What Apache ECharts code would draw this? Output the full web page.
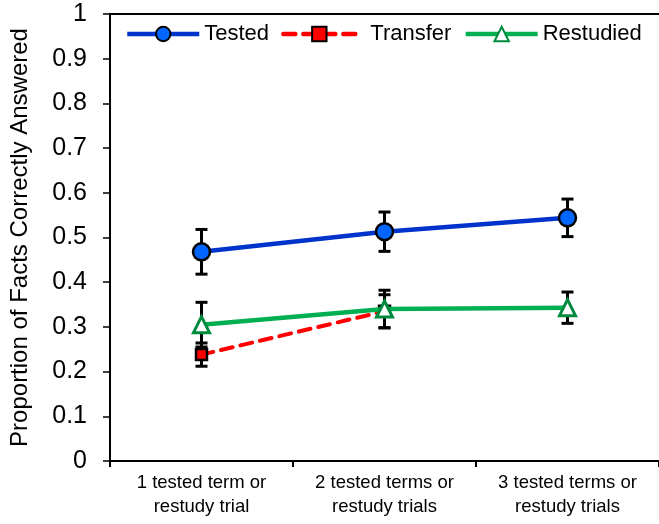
<!DOCTYPE html>
<html>
<head>
<meta charset="utf-8">
<script src="https://cdn.jsdelivr.net/npm/echarts@6/dist/echarts.min.js"></script>
<style>html,body{margin:0;padding:0;background:#fff}#c{width:659px;height:524px}</style>
</head>
<body>
<div id="c"></div>
<script>
var categories = ['1 tested term or\nrestudy trial', '2 tested terms or\nrestudy trials', '3 tested terms or\nrestudy trials'];
var yTicks = ['0', '0.1', '0.2', '0.3', '0.4', '0.5', '0.6', '0.7', '0.8', '0.9', '1'];
var testedMean = [0.468, 0.513, 0.544];
var testedErr = [0.050, 0.044, 0.042];
var transferMean = [0.238, 0.335];
var transferErr = [0.026, 0.037];
var restudiedMean = [0.305, 0.340, 0.343];
var restudiedErr = [0.050, 0.042, 0.035];

var FONT = 'Liberation Sans, Arial, sans-serif';

function errData(mean, err) {
  return mean.map(function (m, i) { return [i, m - err[i], m + err[i]]; });
}
function errSeries(name, mean, err) {
  return {
    type: 'custom',
    name: name + ' err',
    z: 1,
    silent: true,
    data: errData(mean, err),
    renderItem: function (params, api) {
      var x = api.value(0);
      var lo = api.coord([x, api.value(1)]);
      var hi = api.coord([x, api.value(2)]);
      var w = 6;
      var st = { stroke: '#000', lineWidth: 3 };
      return {
        type: 'group',
        children: [
          { type: 'line', shape: { x1: lo[0], y1: lo[1], x2: hi[0], y2: hi[1] }, style: st },
          { type: 'line', shape: { x1: lo[0] - w, y1: lo[1], x2: lo[0] + w, y2: lo[1] }, style: st },
          { type: 'line', shape: { x1: hi[0] - w, y1: hi[1], x2: hi[0] + w, y2: hi[1] }, style: st }
        ]
      };
    }
  };
}

var chart = echarts.init(document.getElementById('c'), null, { renderer: 'canvas' });
chart.setOption({
  animation: false,
  backgroundColor: '#fff',
  textStyle: { fontFamily: FONT },
  grid: { left: 110, right: 0, top: 14, bottom: 63, containLabel: false },
  legend: {
    left: 125,
    top: 23,
    padding: 0,
    itemWidth: 72,
    itemHeight: 18,
    itemGap: 12,
    lineStyle: { width: 4.5 },
    textStyle: { fontFamily: FONT, fontSize: 22, color: '#000' },
    data: [
      { name: 'Tested' },
      { name: 'Transfer', textStyle: { padding: [0, 0, 0, 10] } },
      { name: 'Restudied' }
    ]
  },
  xAxis: [{
    type: 'category',
    data: categories,
    boundaryGap: true,
    axisLine: { lineStyle: { color: '#000', width: 2 } },
    axisTick: { show: true, length: 6, lineStyle: { color: '#000', width: 2 } },
    axisLabel: { color: '#000', fontSize: 18.5, fontFamily: FONT, lineHeight: 24, margin: 10 },
    splitLine: { show: false }
  }, {
    type: 'category',
    position: 'top',
    data: categories,
    axisLine: { show: true, lineStyle: { color: '#000', width: 2 } },
    axisTick: { show: false },
    axisLabel: { show: false }
  }],
  yAxis: {
    type: 'value',
    min: 0,
    max: 1,
    interval: 0.1,
    name: 'Proportion of Facts Correctly Answered',
    nameLocation: 'middle',
    nameGap: 78,
    nameTextStyle: { color: '#000', fontSize: 24, fontFamily: FONT },
    axisLine: { show: true, lineStyle: { color: '#000', width: 2 } },
    axisTick: { show: true, length: 7, lineStyle: { color: '#000', width: 1.5 } },
    axisLabel: {
      color: '#000', fontSize: 25, fontFamily: FONT, margin: 23,
      formatter: function (v) { return yTicks[Math.round(v * 10)]; }
    },
    splitLine: { show: false }
  },
  series: [
    errSeries('Tested', testedMean, testedErr),
    errSeries('Transfer', transferMean, transferErr),
    errSeries('Restudied', restudiedMean, restudiedErr),
    {
      name: 'Tested', type: 'line', z: 3, data: testedMean,
      symbol: 'circle', symbolSize: 17,
      lineStyle: { color: '#0033CC', width: 4.5 },
      itemStyle: { color: '#0066FF', borderColor: '#000', borderWidth: 2.5 }
    },
    {
      name: 'Transfer', type: 'line', z: 2, data: transferMean,
      symbol: 'rect', symbolSize: 11,
      lineStyle: { color: '#FF0000', width: 4, type: [12, 8], cap: 'round' },
      itemStyle: { color: '#FF0000', borderColor: '#000', borderWidth: 2.5 }
    },
    {
      name: 'Restudied', type: 'line', z: 4, data: restudiedMean,
      symbol: 'triangle', symbolSize: 16,
      lineStyle: { color: '#00B050', width: 4.5 },
      itemStyle: { color: '#FFFFFF', borderColor: '#008A3E', borderWidth: 3 }
    }
  ]
});
</script>
</body>
</html>
